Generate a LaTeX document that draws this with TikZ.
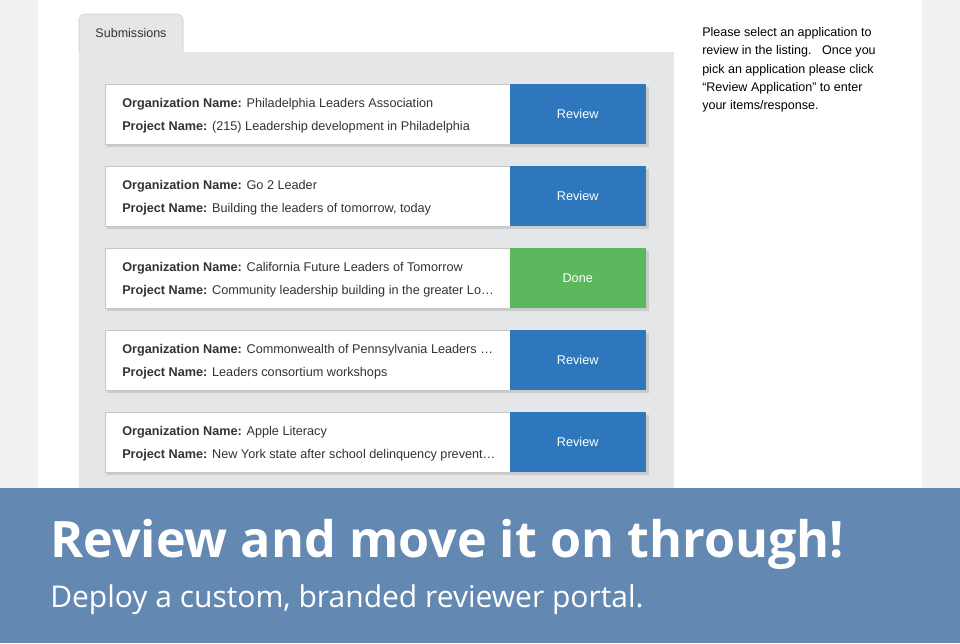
\documentclass[tikz,border=0pt]{standalone}
\usepackage{fontspec}
\setmainfont{Liberation Sans}
\newfontfamily\bannerfont{Open Sans}
\usetikzlibrary{positioning}
\definecolor{pagegray}{HTML}{F1F1F1}
\definecolor{panelgray}{HTML}{E5E6E7}
\definecolor{btnblue}{HTML}{2E77BC}
\definecolor{btngreen}{HTML}{5CB85C}
\definecolor{bannerblue}{HTML}{6389B2}
\definecolor{inktext}{HTML}{333333}
\tikzset{
    card/.style = {draw=gray!45, fill=white, minimum width=405*0.75pt, minimum height=60*0.75pt, inner sep=0pt},
    btnb/.style = {fill=btnblue, minimum width=136*0.75pt, minimum height=60*0.75pt, text=white, font=\fontsize{9.5}{11}\selectfont, inner sep=0pt},
    btng/.style = {btnb, fill=btngreen},
    info/.style = {anchor=west, align=left, text=inktext, font=\fontsize{9.5}{17.2}\selectfont, inner sep=0pt},
    shade/.style = {fill=black!30, opacity=0.5}
}
\begin{document}
\begin{tikzpicture}[x=0.75pt,y=-0.75pt]
  \useasboundingbox (0,0) rectangle (960,643);
  \fill[pagegray] (0,0) rectangle (960,643);
  \fill[white] (38,0) rectangle (922,643);
  % tab and panel
  \fill[panelgray] (79,52) rectangle (674,488);
  \draw[gray!40, fill=panelgray, rounded corners=4pt] (79,52) -- (79,14) -- (183,14) -- (183,52);
  \node[text=inktext, font=\fontsize{9.4}{11}\selectfont] (tab) at (131,33) {Submissions};
  % help text
  \node[anchor=north west, align=left, text=black, font=\fontsize{9.4}{13.8}\selectfont, inner sep=0pt] (help) at (702,27)
    {Please select an application to\\review in the listing.\ \ \ Once you\\pick an application please click\\``Review Application'' to enter\\your items/response.};
  % cards
  \foreach \y/\org/\proj/\lab/\st [count=\i] in {
      84/Philadelphia Leaders Association/(215) Leadership development in Philadelphia/Review/btnb,
      166/Go 2 Leader/Building the leaders of tomorrow{,} today/Review/btnb,
      248/California Future Leaders of Tomorrow/Community leadership building in the greater Lo\ldots/Done/btng,
      330/Commonwealth of Pennsylvania Leaders \ldots/Leaders consortium workshops/Review/btnb,
      412/Apple Literacy/New York state after school delinquency prevent\ldots/Review/btnb} {
    \fill[shade] (107,\y+3) rectangle (649,\y+63);
    \node[card, anchor=north west] (card\i) at (105,\y) {};
    \node[\st, anchor=north east] (btn\i) at (646,\y) {\lab};
    \node[info] (text\i) at (122,\y+32) {\textbf{Organization Name:} \org\\\textbf{Project Name:} \proj};
  }
  % banner
  \fill[bannerblue] (0,488) rectangle (960,643);
  \node[anchor=base west, text=white, inner sep=0pt, font=\bannerfont\bfseries\fontsize{37.7}{42}\selectfont] (title) at (50,557) {Review and move it on through!};
  \node[anchor=base west, text=white, inner sep=0pt, font=\bannerfont\fontsize{22.5}{26}\selectfont] (sub) at (50,607) {Deploy a custom, branded reviewer portal.};
\end{tikzpicture}
\end{document}
